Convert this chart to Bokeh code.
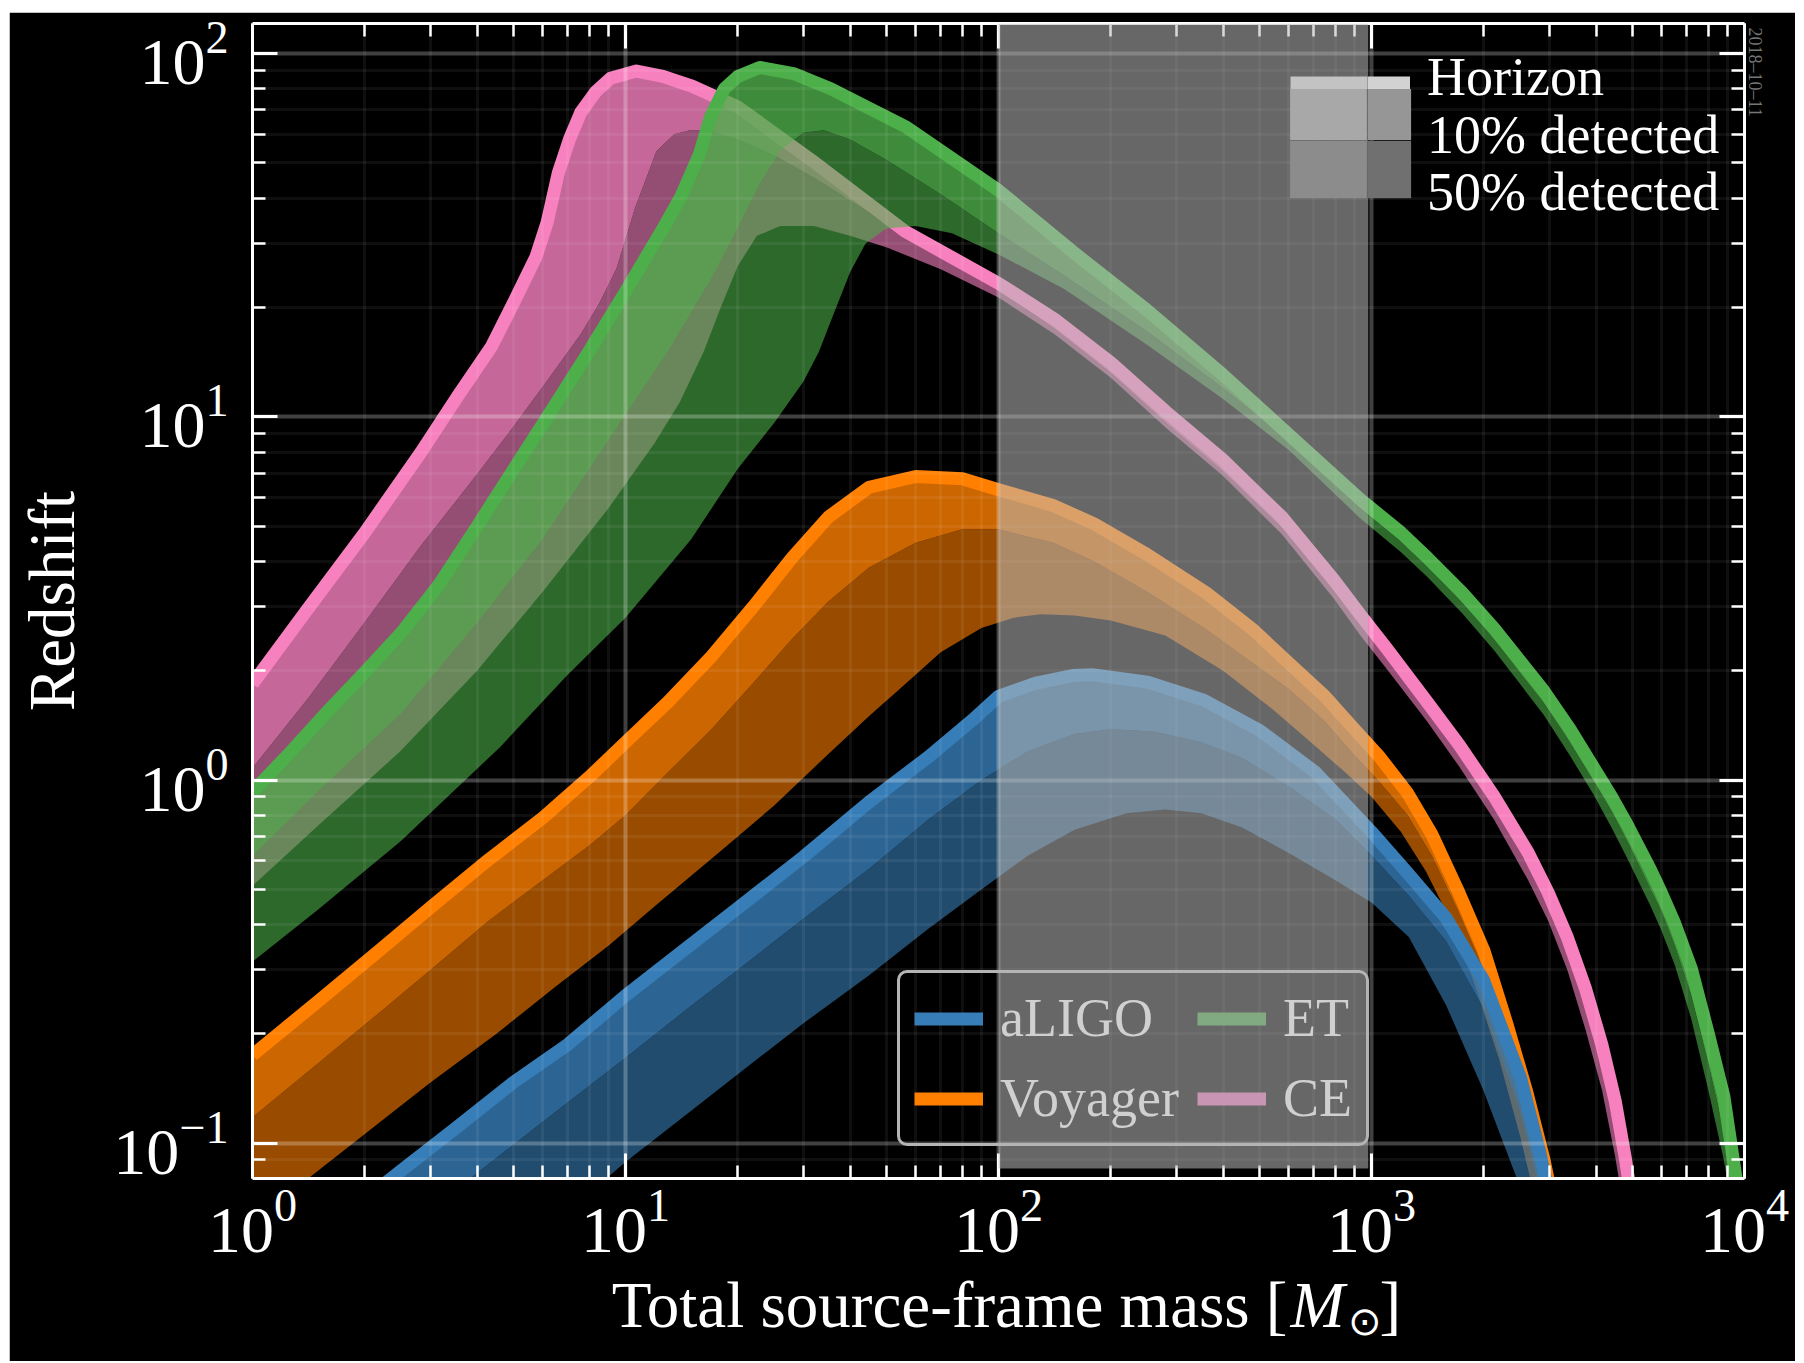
from bokeh.core.properties import value
from bokeh.embed import file_html
from bokeh.layouts import column
from bokeh.models import (BoxAnnotation, FixedTicker, Legend, LegendItem, LogAxis,
                          Range1d, Title)
from bokeh.plotting import figure
from bokeh.resources import INLINE

SERIF = "Liberation Serif"

# ---------------------------------------------------------------------------
# Detection reach versus total source-frame mass.
# For every detector: the horizon redshift and the redshifts at which
# 10% and 50% of sources are still detected.
# ---------------------------------------------------------------------------

# aLIGO
aligo_hz_mass = [2.0, 2.5, 3.5, 5, 7, 10, 15, 20, 30, 45, 65, 85, 100, 126, 158, 178,
                 251, 355, 501, 708, 1000, 1259, 1585, 1995, 2512, 2818, 3162]
aligo_hz_z = [0.070, 0.084, 0.110, 0.147, 0.187, 0.255, 0.353, 0.444, 0.615, 0.87, 1.16,
              1.46, 1.70, 1.85, 1.94, 1.95, 1.86, 1.66, 1.37, 1.05, 0.72, 0.55, 0.417,
              0.282, 0.151, 0.0955, 0.056]
aligo_10_mass = [3.0, 4, 6, 10, 15, 20, 30, 45, 65, 90, 120, 160, 200, 260, 350, 450, 600,
                 800, 1000, 1259, 1585, 1995, 2512, 2818]
aligo_10_z = [0.0658, 0.0828, 0.1146, 0.172, 0.239, 0.30, 0.415, 0.57, 0.78, 1.0, 1.2, 1.34,
              1.38, 1.36, 1.27, 1.15, 0.96, 0.78, 0.62, 0.48, 0.36, 0.235, 0.12, 0.075]
aligo_50_mass = [7, 10, 15, 20, 30, 45, 65, 90, 120, 160, 220, 280, 350, 450, 600, 800,
                 1000, 1259, 1585, 1995, 2512]
aligo_50_z = [0.065, 0.0888, 0.123, 0.155, 0.214, 0.29, 0.39, 0.50, 0.62, 0.73, 0.81, 0.83,
              0.81, 0.74, 0.63, 0.53, 0.46, 0.37, 0.24, 0.14, 0.075]

# Voyager
voyager_hz_mass = [1, 1.5, 2.2, 3, 4.3, 6, 8, 10, 13, 17, 22, 28, 35, 45, 60, 80, 100, 140,
                   180, 250, 360, 480, 600, 750, 900, 1050, 1250, 1450, 1700, 2000, 2300,
                   2600, 2900, 3100]
voyager_hz_z = [0.175, 0.246, 0.341, 0.446, 0.604, 0.787, 1.02, 1.27, 1.64, 2.19, 3.0, 4.1,
                5.3, 6.4, 6.85, 6.75, 6.3, 5.7, 5.08, 4.18, 3.28, 2.6, 2.1, 1.7, 1.38, 1.16,
                0.92, 0.71, 0.5, 0.34, 0.215, 0.14, 0.09, 0.065]
voyager_10_mass = [1, 1.5, 2.2, 3, 4.3, 6, 8, 10, 13, 17, 22, 28, 35, 45, 60, 80, 100, 140,
                   180, 250, 360, 480, 600, 750, 900, 1050, 1250, 1450, 1700, 2000, 2300,
                   2600, 2850]
voyager_10_z = [0.118, 0.166, 0.23, 0.30, 0.41, 0.53, 0.66, 0.80, 1.05, 1.38, 1.85, 2.45,
                3.1, 3.85, 4.5, 4.9, 4.9, 4.5, 4.0, 3.3, 2.6, 2.1, 1.78, 1.45, 1.17, 0.99,
                0.8, 0.62, 0.44, 0.3, 0.19, 0.12, 0.075]
voyager_50_mass = [1, 1.41, 2, 3, 4.5, 6.5, 9, 12, 18, 25, 35, 45, 55, 70, 90, 110, 130,
                   160, 200, 280, 400, 550, 700, 850, 1000, 1200, 1400, 1650, 1900, 2200,
                   2500, 2750]
voyager_50_z = [0.061, 0.08, 0.106, 0.147, 0.2, 0.27, 0.35, 0.45, 0.638, 0.85, 1.18, 1.5,
                1.8, 2.25, 2.62, 2.8, 2.86, 2.84, 2.75, 2.5, 2.0, 1.55, 1.25, 1.05, 0.9,
                0.72, 0.56, 0.4, 0.27, 0.17, 0.105, 0.07]

# Einstein Telescope
et_hz_mass = [1, 1.26, 1.585, 2.0, 2.51, 3.16, 3.98, 5.01, 6.31, 7.94, 10, 12.6, 14.1,
              15.8, 16.9, 18.4, 20, 22.9, 28.2, 35.5, 56.2, 100, 158, 251, 398, 575, 934,
              1200, 1410, 1750, 2128, 2500, 2897, 3400, 3945, 4400, 4844, 5598, 5957, 6500,
              7200, 8000, 8800, 9460, 10000]
et_hz_z = [0.927, 1.19, 1.54, 1.98, 2.55, 3.45, 4.95, 7.16, 10.35, 15.0, 22.1, 33.0, 40.5,
           53, 67, 80, 86.5, 91.6, 88.1, 80.0, 63.0, 42.0, 28.5, 19.6, 13.1, 9.3, 5.92,
           4.80, 4.10, 3.28, 2.62, 2.13, 1.76, 1.385, 1.08, 0.90, 0.755, 0.566, 0.495,
           0.403, 0.303, 0.20, 0.135, 0.082, 0.055]
et_10_mass = [1, 1.5, 2.5, 4, 6, 9, 13, 17, 20, 23, 26, 30, 34, 40, 50, 70, 100, 150, 250,
              400, 600, 934, 1200, 1410, 1750, 2128, 2500, 2897, 3400, 3945, 4400, 4844,
              5598, 5957, 6500, 7200, 8000, 8800, 9460]
et_10_z = [0.616, 0.93, 1.52, 2.7, 4.6, 8.6, 15.1, 24, 33, 44, 54, 60.5, 61.5, 58, 51, 41,
           32, 24.5, 17.2, 12.0, 8.6, 5.59, 4.53, 3.87, 3.08, 2.44, 1.97, 1.63, 1.27, 0.99,
           0.82, 0.68, 0.5, 0.44, 0.35, 0.255, 0.165, 0.108, 0.064]
et_50_mass = [1, 1.5, 2.5, 4.6, 7, 10, 15, 20, 25, 30, 33, 36, 40, 44, 50, 60, 75, 100,
              150, 250, 400, 600, 934, 1200, 1410, 1750, 2128, 2500, 2897, 3400, 3945, 4400,
              4844, 5598, 5957, 6500, 7200, 8000, 8800, 9300]
et_50_z = [0.316, 0.44, 0.68, 1.23, 1.95, 2.8, 4.6, 7.2, 9.6, 12.5, 15.1, 19, 25, 30, 33,
           33.5, 32, 28, 22.5, 15.8, 11.2, 8.1, 5.25, 4.24, 3.63, 2.88, 2.28, 1.84, 1.51,
           1.17, 0.91, 0.74, 0.61, 0.45, 0.39, 0.31, 0.22, 0.14, 0.09, 0.065]

# Cosmic Explorer
ce_hz_mass = [1, 1.41, 2.0, 2.82, 3.55, 4.37, 5.01, 5.75, 6.17, 6.6, 7.08, 7.59, 8.32,
              9.12, 10.7, 12.6, 15.1, 20, 31.6, 56.2, 100, 141, 200, 282, 398, 575, 794,
              934, 1100, 1410, 1718, 2128, 2630, 2976, 3350, 3750, 4150, 4500, 4800, 5000]
ce_hz_z = [1.84, 2.97, 4.80, 7.95, 11.4, 15.6, 20.6, 27.5, 34.4, 46.8, 58.2, 68.9, 78.5,
           85.5, 89.5, 86.5, 81.3, 71.3, 50.8, 32.4, 23.3, 18.6, 14.1, 10.3, 7.64, 5.3,
           3.55, 2.85, 2.3, 1.64, 1.25, 0.904, 0.631, 0.49, 0.369, 0.266, 0.186, 0.131,
           0.09, 0.068]
ce_10_mass = [1, 1.41, 2, 2.82, 3.98, 5.01, 6.31, 7.59, 8.5, 9.46, 10.6, 12.1, 13.5, 15,
              17, 20, 25, 32, 45, 60, 100, 141, 200, 282, 398, 575, 794, 934, 1100, 1410,
              1718, 2128, 2630, 2976, 3350, 3750, 4150, 4500, 4800]
ce_10_z = [1.08, 1.68, 2.72, 4.4, 6.9, 9.4, 13.0, 16.9, 20.5, 25.6, 37.5, 53.8, 60, 61.6,
           61, 58, 52.5, 45.5, 36.5, 30.0, 22.3, 17.5, 13.2, 9.6, 7.1, 4.95, 3.3, 2.66,
           2.16, 1.54, 1.17, 0.84, 0.58, 0.45, 0.335, 0.24, 0.165, 0.112, 0.075]
ce_50_mass = [1, 1.5, 2.49, 4, 6, 9, 12, 14, 16.2, 18, 20, 22.5, 26, 32, 40, 50, 70, 100,
              141, 200, 282, 398, 575, 794, 934, 1100, 1410, 1718, 2128, 2630, 2976, 3350,
              3750, 4150, 4500, 4700]
ce_50_z = [0.511, 0.75, 1.20, 2.0, 3.3, 5.6, 8.5, 11, 15.1, 20, 26, 31.5, 33.5, 33.5, 31.5,
           29.3, 25.5, 21.3, 16.9, 12.8, 9.3, 6.9, 4.75, 3.15, 2.5, 2.02, 1.45, 1.09, 0.78,
           0.53, 0.41, 0.3, 0.205, 0.14, 0.092, 0.07]

detector_names = ["aLIGO", "Voyager", "ET", "CE"]
detector_colors = ["#377eb8", "#ff7f00", "#4daf4a", "#f781bf"]
# detector colours as they appear seen through the shaded mass window
detector_colors_shaded = ["#377eb8", "#ff7f00", "#82aa82", "#c896b4"]

# shaded mass window and axis settings
window_mass = [100, 980]
window_floor_z = 0.0853
mass_limits = [1, 1e4]
z_limits = [0.08, 121]
mass_major = [1, 10, 100, 1000, 10000]
mass_minor = [k * 10 ** d for d in range(4) for k in range(2, 10)]
z_major = [0.1, 1, 10, 100]
z_minor = [0.09] + [k * 10.0 ** d for d in (-1, 0, 1) for k in range(2, 10)]

# placeholder geometry for legend keys, kept outside the plotted window
key_mass = [0.2, 0.3]
key_z = [0.01, 0.02]

curves = {
    "aLIGO": (aligo_hz_mass, aligo_hz_z, aligo_10_mass, aligo_10_z, aligo_50_mass, aligo_50_z),
    "Voyager": (voyager_hz_mass, voyager_hz_z, voyager_10_mass, voyager_10_z,
                voyager_50_mass, voyager_50_z),
    "ET": (et_hz_mass, et_hz_z, et_10_mass, et_10_z, et_50_mass, et_50_z),
    "CE": (ce_hz_mass, ce_hz_z, ce_10_mass, ce_10_z, ce_50_mass, ce_50_z),
}

# page-pixel geometry of the plotting frame
FRAME_LEFT, FRAME_RIGHT, FRAME_BOTTOM = 252, 1744, 1178

p = figure(width=1786, height=1349, x_axis_type="log", y_axis_type="log",
           x_range=Range1d(*mass_limits), y_range=Range1d(*z_limits),
           output_backend="svg", toolbar_location=None,
           background_fill_color="black", border_fill_color="black",
           outline_line_color=None,
           min_border_left=243, min_border_right=51, min_border_top=11,
           min_border_bottom=183)
p.margin = (12, 9, 0, 9)

x_ticker = FixedTicker(ticks=mass_major, minor_ticks=mass_minor)
y_ticker = FixedTicker(ticks=z_major, minor_ticks=z_minor)


def style_axis(ax, ticker, labelled, standoff=12):
    ax.ticker = ticker
    ax.axis_line_color = "white"
    ax.axis_line_width = 3
    ax.major_tick_line_color = "white"
    ax.major_tick_line_width = 3
    ax.minor_tick_line_color = "white"
    ax.minor_tick_line_width = 2.5
    ax.major_tick_in = 25
    ax.major_tick_out = 0
    ax.minor_tick_in = 13
    ax.minor_tick_out = 0
    ax.major_label_text_font = SERIF
    if labelled:
        ax.major_label_text_color = "white"
        ax.major_label_text_font_size = "66px"
        ax.major_label_standoff = standoff
    else:
        # mirrored frame edge: ticks only, labels kept tiny and invisible
        ax.major_label_text_alpha = 0
        ax.major_label_text_font_size = "1px"
        ax.major_label_standoff = 0


style_axis(p.xaxis[0], x_ticker, True, 12)
style_axis(p.yaxis[0], y_ticker, True, 24)
top_axis = LogAxis()
right_axis = LogAxis()
style_axis(top_axis, x_ticker, False)
style_axis(right_axis, y_ticker, False)
p.add_layout(top_axis, "above")
p.add_layout(right_axis, "right")

p.yaxis[0].axis_label = "Redshift"
p.yaxis[0].axis_label_text_font = SERIF
p.yaxis[0].axis_label_text_font_size = "65px"
p.yaxis[0].axis_label_text_font_style = "normal"
p.yaxis[0].axis_label_text_color = "white"
p.yaxis[0].axis_label_standoff = 22

# date stamp along the right frame edge
p.add_layout(Title(text="2018\u201310\u201311", align="left", offset=4, standoff=0,
                   text_font=SERIF, text_font_size="18px", text_font_style="normal",
                   text_color="#777777"), "right")

for grid, ticker in ((p.xgrid[0], x_ticker), (p.ygrid[0], y_ticker)):
    grid.ticker = ticker
    grid.level = "guide"
    grid.grid_line_color = "white"
    grid.grid_line_alpha = 0.25
    grid.grid_line_width = 4
    grid.minor_grid_line_color = "white"
    grid.minor_grid_line_alpha = 0.06
    grid.minor_grid_line_width = 3


def band(m_hi, z_hi, m_lo, z_lo):
    return list(m_hi) + list(m_lo)[::-1], list(z_hi) + list(z_lo)[::-1]


for name in ["CE", "ET", "Voyager", "aLIGO"]:
    color = detector_colors[detector_names.index(name)]
    m_hz, z_hz, m_10, z_10, m_50, z_50 = curves[name]
    xs, ys = band(m_10, z_10, m_50, z_50)
    p.patch(xs, ys, fill_color=color, fill_alpha=0.6, line_alpha=0)
    xs, ys = band(m_hz, z_hz, m_10, z_10)
    p.patch(xs, ys, fill_color=color, fill_alpha=0.8, line_alpha=0)
    p.line(m_hz, z_hz, line_color=color, line_width=13, line_join="round",
           line_cap="butt")

legends = []
plain_key = dict(spacing=0, padding=0, margin=0, background_fill_alpha=0,
                 border_line_alpha=0)

# detector legend (keys drawn in the tones seen through the shaded window)
det_keys = [p.line(key_mass, key_z, line_color=c, line_width=13)
            for c in detector_colors_shaded]
det_legend = Legend(
    items=[LegendItem(label=n, renderers=[r]) for n, r in zip(detector_names, det_keys)],
    location=(645, 32), orientation="vertical",
    glyph_width=69, glyph_height=55, label_height=55, label_standoff=17,
    spacing=18, padding=14, margin=0,
    label_text_font=SERIF, label_text_font_size="54px", label_text_color="#d0d0d0",
    background_fill_alpha=0,
    border_line_color="#b4b4b4", border_line_width=3, border_line_alpha=1.0)
if "ncols" in Legend.properties():
    det_legend.ncols = 2
if "border_radius" in Legend.properties():
    det_legend.border_radius = 10
legends.append(det_legend)

# key for line / shading meaning: one row per entry
key_text = ["Horizon", "10% detected", "50% detected"]
key_row_offset = [1070, 1012, 955]
for t, vy in zip(key_text, key_row_offset):
    r = p.line(key_mass, key_z, line_alpha=0)
    legends.append(Legend(items=[LegendItem(label=t, renderers=[r])],
                          location=(1038, vy), glyph_width=120, glyph_height=20,
                          label_height=20, label_standoff=17,
                          label_text_font=SERIF, label_text_font_size="54px",
                          label_text_color="white", **plain_key))


def swatch_legend(renderer, x0, x1, y0, y1, inset):
    """Single unlabeled key whose drawn swatch covers page box x0..x1, y0..y1."""
    scale = 1.0 - 2 * inset
    gw = (x1 - x0) / scale
    gh = (y1 - y0) / scale
    left = x0 - inset * gw
    bottom = y1 + inset * gh
    return Legend(items=[LegendItem(label=" ", renderers=[renderer])],
                  location=(round(left - FRAME_LEFT), round(FRAME_BOTTOM - bottom)),
                  glyph_width=round(gw), glyph_height=round(gh), label_height=round(gh),
                  label_standoff=0, label_text_font_size="2px", label_text_alpha=0,
                  **plain_key)


# shading swatches; the part under the shaded window reads lighter
swatch_cols = [(1290, 1367, ["#c3c3c3", "#a8a8a8", "#8c8c8c"]),
               (1367, 1410, ["#d2d2d2", "#969696", "#707070"])]
for x0, x1, (c_hz, c_10, c_50) in swatch_cols:
    hz_key = p.line(key_mass, key_z, line_color=c_hz, line_width=13, line_cap="butt")
    b10 = p.quad(left=key_mass[0], right=key_mass[1], bottom=key_z[0], top=key_z[1],
                 fill_color=c_10, line_alpha=0)
    b50 = p.quad(left=key_mass[0], right=key_mass[1], bottom=key_z[0], top=key_z[1],
                 fill_color=c_50, line_alpha=0)
    legends.append(swatch_legend(b10, x0, x1, 89, 140, 0.1))
    legends.append(swatch_legend(b50, x0, x1, 140, 198, 0.1))
    legends.append(swatch_legend(hz_key, x0, x1, 76, 89, 0.0))

for leg in legends:
    p.add_layout(leg)

# translucent mass window
p.add_layout(BoxAnnotation(left=window_mass[0], right=window_mass[1],
                           bottom=window_floor_z, fill_color="#bbbbbb", fill_alpha=0.55,
                           line_alpha=0, level="overlay"))

# x-axis title: a transparent strip laid over the bottom margin of the plot
# (its frame lines up with the plot above), italic M with a sun subscript
STRIP_H = 98
xl = figure(width=1786, height=STRIP_H, x_range=Range1d(FRAME_LEFT, FRAME_RIGHT),
            y_range=Range1d(0, STRIP_H), output_backend="svg", toolbar_location=None,
            x_axis_location=None, y_axis_location=None,
            background_fill_color=None, border_fill_color=None,
            outline_line_color=None, min_border=0)
xl.margin = (-STRIP_H, 9, 2, 9)
xl.grid.visible = False
title_parts = ["Total source-frame mass [", "M", "\u2299", "]"]
title_x = [1287, 1290, 1347, 1379]
title_y = [57, 57, 40, 57]
title_size = ["65px", "65px", "40px", "65px"]
title_style = ["normal", "italic", "normal", "normal"]
title_align = ["right", "left", "left", "left"]
for t, x, y, s, st, al in zip(title_parts, title_x, title_y, title_size, title_style,
                              title_align):
    xl.text(x=[x], y=[y], text=[t], text_font=value(SERIF), text_font_size=s,
            text_font_style=st, text_align=al, text_baseline="middle",
            text_color="white")

layout = column(p, xl, spacing=0)
open("out.html", "w").write(file_html(layout, INLINE))
